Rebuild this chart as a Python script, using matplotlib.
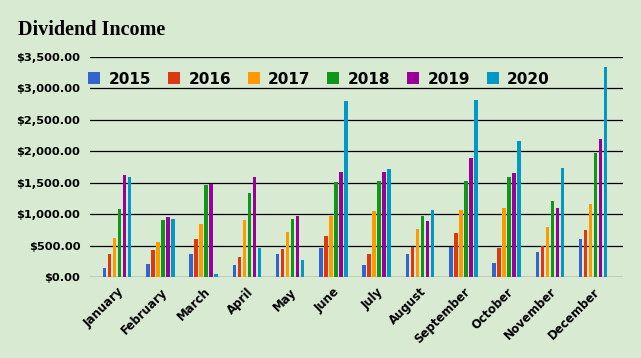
import matplotlib.pyplot as plt
import numpy as np
from matplotlib.patches import Patch
from matplotlib.ticker import FuncFormatter

months = ['January', 'February', 'March', 'April', 'May', 'June', 'July',
          'August', 'September', 'October', 'November', 'December']
years = ['2015', '2016', '2017', '2018', '2019', '2020']

income_2015 = [150, 213, 372, 197, 372, 467, 197, 372, 483, 229, 404, 611]
income_2016 = [361, 425, 600, 313, 451, 658, 372, 483, 706, 467, 499, 754]
income_2017 = [627, 552, 838, 913, 722, 976, 1056, 770, 1072, 1104, 802, 1168]
income_2018 = [1088, 902, 1459, 1343, 929, 1517, 1533, 976, 1533, 1597, 1215, 1979]
income_2019 = [1618, 950, 1486, 1586, 966, 1666, 1666, 886, 1888, 1660, 1104, 2202]
income_2020 = [1586, 929, 43, 467, 266, 2806, 1713, 1072, 2822, 2170, 1740, 3347]

colors = ['#3366cc', '#dc3912', '#ff9900', '#109618', '#990099', '#0099c6']
bg = '#d9ead3'


def plot_dividends():
    series = [income_2015, income_2016, income_2017, income_2018, income_2019, income_2020]
    x = np.arange(len(months))

    fig = plt.figure(figsize=(6.41, 3.58), dpi=100, facecolor=bg)
    ax = fig.add_axes([90 / 641, 1 - 277 / 358, 533 / 641, 220 / 358])
    ax.set_facecolor(bg)

    slot = 0.1155
    for i, (vals, c) in enumerate(zip(series, colors)):
        ax.bar(x + (i - 2.5) * slot, vals, width=0.085, color=c, zorder=3)

    ax.set_xlim(-0.624, 11.69)
    ax.set_ylim(0, 3500)
    ax.set_yticks(np.arange(0, 3501, 500))
    ax.yaxis.set_major_formatter(FuncFormatter(lambda v, p: f'${v:,.2f}'))
    ax.grid(True, axis='y', color='black', linewidth=0.9, zorder=1)
    for s in ax.spines.values():
        s.set_visible(False)
    ax.tick_params(axis='both', length=0)
    ax.tick_params(axis='y', pad=7)
    ax.tick_params(axis='x', pad=6)

    ax.set_xticks(x)
    ax.set_xticklabels(months, rotation=45, ha='right', rotation_mode='anchor',
                       fontsize=8.5, fontweight='bold', family='DejaVu Sans')
    for lab in ax.get_yticklabels():
        lab.set_fontsize(8.2)
        lab.set_fontweight('bold')

    handles = [Patch(facecolor=c) for c in colors]
    ax.legend(handles, years, ncol=6, loc='center left', bbox_to_anchor=(-0.003, 0.9),
              frameon=False, borderpad=0, borderaxespad=0,
              handlelength=0.78, handleheight=0.78, handletextpad=0.55,
              columnspacing=1.1, prop={'weight': 'bold', 'size': 11})

    fig.text(18 / 641, 1 - 35 / 358, 'Dividend Income', family='Liberation Serif',
             fontweight='bold', fontsize=14.5, va='baseline', ha='left')

    fig.savefig('out.png', dpi=100, facecolor=bg)


if __name__ == '__main__':
    plot_dividends()
